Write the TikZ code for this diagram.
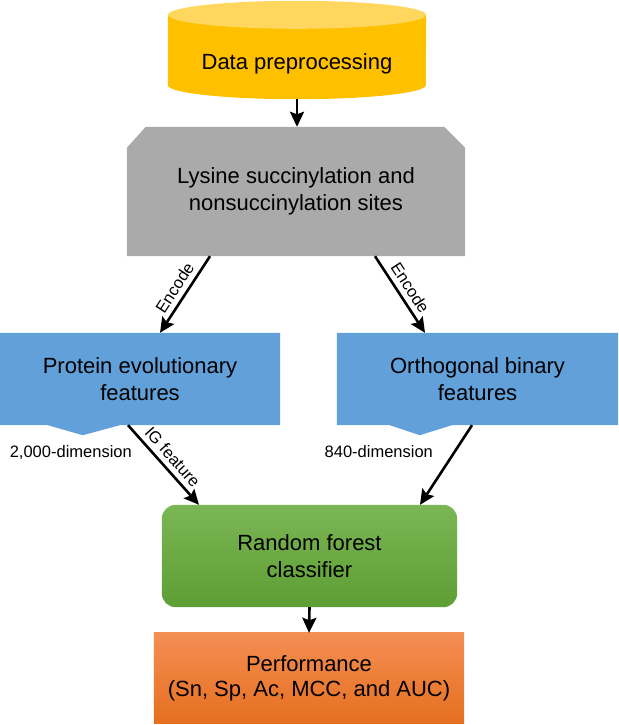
\documentclass[tikz,border=0pt]{standalone}
\usepackage{fontspec}
\setmainfont{Liberation Sans}
\usetikzlibrary{arrows.meta,calc,backgrounds}
\definecolor{cylbody}{HTML}{FFC000}
\definecolor{cyltop}{HTML}{FFD75E}
\definecolor{grayfill}{HTML}{AAAAAA}
\definecolor{bluefill}{HTML}{62A0DA}
\definecolor{greentop}{HTML}{7BB655}
\definecolor{greenbot}{HTML}{5E9E34}
\definecolor{orangetop}{HTML}{F48E54}
\definecolor{orangebot}{HTML}{E66F1F}
\begin{document}
\begin{tikzpicture}[x=1pt,y=-1pt,
  boxtext/.style={align=center,font=\fontsize{22}{27}\selectfont,inner sep=0pt},
  smalltext/.style={font=\fontsize{16.5}{19}\selectfont},
  arr/.style={line width=2.6pt,-{Stealth[length=15pt,width=14pt,inset=2.5pt]}},
  lab/.style={smalltext,sloped,above,inner sep=5pt,midway}]
\useasboundingbox (0,0) rectangle (618,725);
\node[boxtext,minimum width=258pt,minimum height=70pt] (data) at (297,64) {Data preprocessing};
\node[boxtext,minimum width=338pt,minimum height=129pt] (gray) at (296,191.5) {Lysine succinylation and\\nonsuccinylation sites};
\node[boxtext,minimum width=280pt,minimum height=92pt] (pef) at (140,379) {Protein evolutionary\\features};
\node[boxtext,minimum width=281pt,minimum height=92pt] (obf) at (477.5,379) {Orthogonal binary\\features};
\node[boxtext,minimum width=295pt,minimum height=102pt] (rf) at (309.5,556) {Random forest\\classifier};
\node[boxtext,minimum width=310pt,minimum height=90pt,font=\fontsize{22}{25}\selectfont] (perf) at (309,678) {Performance\\(Sn, Sp, Ac, MCC, and AUC)};
\node[smalltext,anchor=base] (d1) at ($(pef.south west)+(71,32)$) {2,000-dimension};
\node[smalltext,anchor=base] (d2) at ($(obf.south west)+(42,32)$) {840-dimension};
\begin{scope}[on background layer]
\fill[white] (0,0) rectangle (618,725);
\fill[cylbody] ($(data.north west)+(0,-14)$) -- ($(data.south west)+(0,-14)$) arc[start angle=180,end angle=360,x radius=129pt,y radius=14pt] -- ($(data.north east)+(0,-14)$) -- cycle;
\fill[cyltop] ($(data.north)+(0,-14)$) ellipse[x radius=129pt,y radius=14pt];
\fill[grayfill] (gray.south west) -- ($(gray.north west)+(0,21)$) -- ($(gray.north west)+(19,0)$) -- ($(gray.north east)+(-21,0)$) -- ($(gray.north east)+(0,21)$) -- (gray.south east) -- cycle;
\fill[bluefill] (pef.north west) -- (pef.north east) -- (pef.south east) -- ($(pef.south west)+(120,0)$) -- ($(pef.south west)+(83,10)$) -- ($(pef.south west)+(48,0)$) -- (pef.south west) -- cycle;
\fill[bluefill] (obf.north west) -- (obf.north east) -- (obf.south east) -- ($(obf.south west)+(115,0)$) -- ($(obf.south west)+(83,10)$) -- ($(obf.south west)+(53,0)$) -- (obf.south west) -- cycle;
\shade[rounded corners=14pt,top color=greentop,bottom color=greenbot] (rf.north west) rectangle (rf.south east);
\shade[top color=orangetop,bottom color=orangebot] (perf.north west) rectangle (perf.south east);
\end{scope}
\draw[arr] (data.south) -- (data.south |- gray.north);
\draw[arr] ($(gray.south)+(-86,0)$) -- node[lab]{Encode} ($(pef.north)+(20,0)$);
\draw[arr] ($(gray.south)+(79,0)$) -- node[lab]{Encode} ($(obf.north)+(-52.5,0)$);
\draw[arr] ($(pef.south)+(-12,0)$) -- node[lab]{IG feature} ($(rf.north)+(-110.5,0)$);
\draw[arr] ($(obf.south)+(-5.5,0)$) -- ($(rf.north)+(110.5,0)$);
\draw[arr] (rf.south) -- (perf.north);
\end{tikzpicture}
\end{document}
